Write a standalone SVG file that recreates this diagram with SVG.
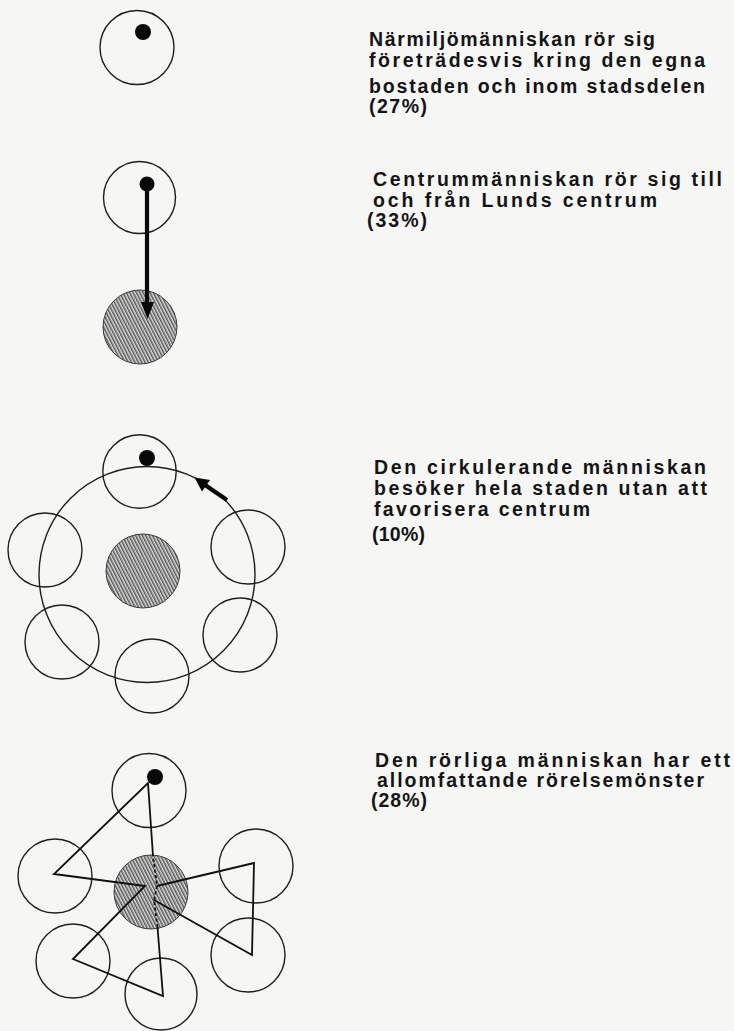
<svg xmlns="http://www.w3.org/2000/svg" width="734" height="1031" viewBox="0 0 734 1031">
<defs>
<pattern id="hatch" patternUnits="userSpaceOnUse" width="3" height="3" patternTransform="rotate(-27)">
<rect width="3" height="3" fill="#dcdcdc"/>
<line x1="0.8" y1="0" x2="0.8" y2="3" stroke="#262626" stroke-width="1.1"/>
</pattern>
<style>
.ring{fill:none;stroke:#1e1e1e;stroke-width:1.4}
.hub{fill:url(#hatch);stroke:#3a3a3a;stroke-width:1}
.dot{fill:#080808}
.t{font-family:"Liberation Sans",Arial,sans-serif;font-weight:bold;font-size:19.5px;fill:#141414}
.route{fill:none;stroke:#101010;stroke-width:1.8;stroke-linejoin:miter}
</style>
</defs>
<rect width="734" height="1031" fill="#f6f6f5"/>

<g id="diagram1">
<circle class="ring" cx="137" cy="47.5" r="37"/>
<circle class="dot" cx="143" cy="32" r="8"/>
</g>
<g id="text1" class="t">
<text x="369" y="46" textLength="286" lengthAdjust="spacing">Närmiljömänniskan rör sig</text>
<text x="369" y="67" textLength="336" lengthAdjust="spacing">företrädesvis kring den  egna</text>
<text x="369" y="93" textLength="336" lengthAdjust="spacing">bostaden och inom stadsdelen</text>
<text x="369" y="113" textLength="58" lengthAdjust="spacing">(27%)</text>
</g>

<g id="diagram2">
<circle class="ring" cx="139.5" cy="197.5" r="36"/>
<circle class="hub" cx="140" cy="327" r="37"/>
<circle class="dot" cx="147" cy="184" r="7.5"/>
</g>
<g id="text2" class="t">
<text x="373" y="186" textLength="349" lengthAdjust="spacing">Centrummänniskan rör sig till</text>
<text x="373" y="207" textLength="284" lengthAdjust="spacing">och från Lunds centrum</text>
<text x="367" y="227" textLength="60" lengthAdjust="spacing">(33%)</text>
</g>

<g id="diagram3">
<circle class="ring" cx="147" cy="574.5" r="108"/>
<circle class="ring" cx="139.5" cy="471.5" r="36.7"/>
<circle class="ring" cx="45" cy="550" r="37"/>
<circle class="ring" cx="248" cy="547" r="37"/>
<circle class="ring" cx="62" cy="642" r="37"/>
<circle class="ring" cx="240" cy="635" r="37"/>
<circle class="ring" cx="152" cy="676" r="37"/>
<circle class="hub" cx="143" cy="571" r="37"/>
<circle class="dot" cx="147" cy="458" r="8"/>
</g>
<g id="text3" class="t">
<text x="374" y="474" textLength="332" lengthAdjust="spacing">Den cirkulerande människan</text>
<text x="374" y="495" textLength="333" lengthAdjust="spacing">besöker hela staden utan att</text>
<text x="374" y="516" textLength="216" lengthAdjust="spacing">favorisera centrum</text>
<text x="372" y="541" textLength="53" lengthAdjust="spacing">(10%)</text>
</g>

<g id="diagram4">
<circle class="ring" cx="149" cy="790.5" r="37"/>
<circle class="ring" cx="55" cy="876" r="37"/>
<circle class="ring" cx="256" cy="866" r="37"/>
<circle class="ring" cx="248" cy="955" r="37"/>
<circle class="ring" cx="73" cy="961" r="37"/>
<circle class="ring" cx="161" cy="994" r="36"/>
<circle class="hub" cx="151" cy="892" r="37"/>
<circle class="dot" cx="155" cy="777" r="8"/>
</g>
<g id="text4" class="t">
<text x="375" y="767" textLength="355" lengthAdjust="spacing">Den rörliga människan har ett</text>
<text x="377" y="787" textLength="327" lengthAdjust="spacing">allomfattande rörelsemönster</text>
<text x="371" y="807" textLength="56" lengthAdjust="spacing">(28%)</text>
</g>

<g id="connectors">
<line x1="147" y1="184" x2="147" y2="304" stroke="#080808" stroke-width="4.2"/>
<polygon points="141,302 154,302 147.5,319" fill="#080808"/>
<line x1="227" y1="500" x2="205" y2="485" stroke="#080808" stroke-width="4.2"/>
<polygon points="194.5,477.5 210,480 202,491.5" fill="#080808"/>
<path class="route" d="M153,856 L148,783 L54,874 L145,886 L73,959 L163,996 L157.5,927"/>
<path class="route" d="M154,900 L252,955 L254,863 L157,886"/>
<path class="route" stroke-dasharray="3 2.5" d="M157.5,927 L154,900 L157,886 L153,856"/>
</g>
</svg>
